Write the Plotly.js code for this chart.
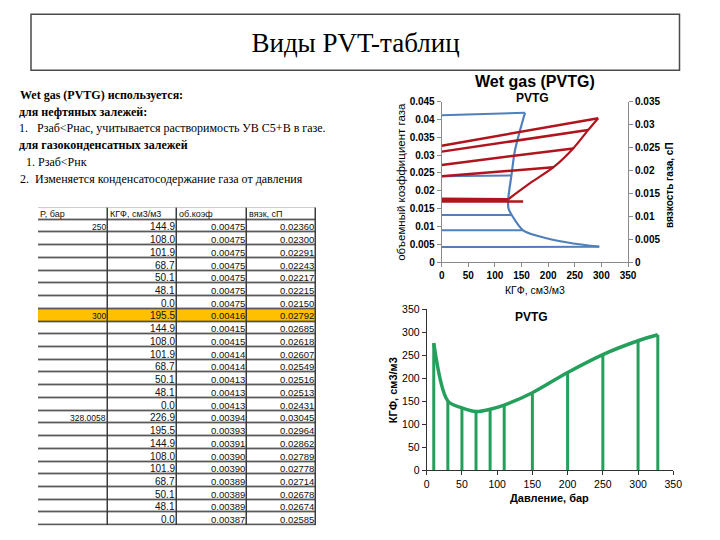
<!DOCTYPE html>
<html><head><meta charset="utf-8">
<script src="https://cdn.plot.ly/plotly-3.0.1.min.js"></script>
<style>html,body{margin:0;padding:0;background:#fff;}#chart{width:720px;height:540px;}</style>
</head><body><div id="chart"></div>
<script>
// ---------- Top chart: Wet gas (PVTG) ----------
// blue: gas formation volume factor, lines from dry gas (KGF=0) to saturation
const bgLineKgfSat = [156.5, 131, 125, 131.5, 153, 296];
const bgLineBgSat  = [0.0419, 0.0243, 0.0177, 0.0132, 0.0089, 0.0043];
const bgLineBgDry  = [0.0412, 0.0241, 0.0177, 0.0132, 0.0089, 0.0042];
// blue saturated curve
const bgSatKgf = [156.5, 137.7, 131, 125, 125.5, 131.5, 153, 197, 247, 296];
const bgSatBg  = [0.0419, 0.0314, 0.0243, 0.0177, 0.0150, 0.0132, 0.0089, 0.00665, 0.0052, 0.0043];
// red: gas viscosity (right axis)
const muLineKgfSat = [294, 275, 247, 210, 125, 122, 153];
const muLineMuSat  = [0.0314, 0.0288, 0.0248, 0.0207, 0.0137, 0.0134, 0.0132];
const muLineMuDry  = [0.0254, 0.0241, 0.0212, 0.0187, 0.0138, 0.0135, 0.0132];
const muSatKgf = [125, 166, 210, 247, 275, 294];
const muSatMu  = [0.0137, 0.0172, 0.0207, 0.0248, 0.0288, 0.0314];

// ---------- Bottom chart: KGF vs pressure ----------
const pressure = [10, 30, 50, 70, 90, 110, 150, 200, 250, 300, 328];
const kgfSat   = [276, 150, 135, 127, 132, 141, 168, 212, 251, 281, 294];

// ---------- Table ----------
const tableHeader = ['P, бар', 'КГФ, см3/м3', 'об.коэф', 'вязк, сП'];
const colPressure = ['250','','','','','','', '300','','','','','','','', '328.0058','','','','','','','',''];
const colKgf = ['144.9','108.0','101.9','68.7','50.1','48.1','0.0',
  '195.5','144.9','108.0','101.9','68.7','50.1','48.1','0.0',
  '226.9','195.5','144.9','108.0','101.9','68.7','50.1','48.1','0.0'];
const colBg = ['0.00475','0.00475','0.00475','0.00475','0.00475','0.00475','0.00475',
  '0.00416','0.00415','0.00415','0.00414','0.00414','0.00413','0.00413','0.00413',
  '0.00394','0.00393','0.00391','0.00390','0.00390','0.00389','0.00389','0.00389','0.00387'];
const colMu = ['0.02360','0.02300','0.02291','0.02243','0.02217','0.02215','0.02150',
  '0.02792','0.02685','0.02618','0.02607','0.02549','0.02516','0.02513','0.02431',
  '0.03045','0.02964','0.02862','0.02789','0.02778','0.02714','0.02678','0.02674','0.02585'];
const highlightPressure = '300';

// ---------- Slide text ----------
const slideTitle = 'Виды PVT-таблиц';
const textLines = [
  {t:'<b>Wet gas (PVTG) используется:</b>', x:18, y:94.5},
  {t:'<b>для нефтяных залежей:</b>', x:17, y:111.7},
  {t:'1.', x:16.5, y:128.5},
  {t:'Рзаб&lt;Рнас, учитывается растворимость УВ С5+В в газе.', x:35, y:128.5},
  {t:'<b>для газоконденсатных залежей</b>', x:17, y:145.2},
  {t:'1. Рзаб&lt;Рнк', x:23.5, y:162},
  {t:'2.', x:18, y:179},
  {t:'Изменяется конденсатосодержание газа от давления', x:33, y:179}
];

const W = 720, H = 540;
const px = v => v / W, py = v => 1 - v / H;
const SANS = 'Liberation Sans, Arial, sans-serif';
const SERIF = 'Liberation Serif, Times New Roman, serif';
const BLUE = '#4f80bb', RED = '#b0141c', GREEN = '#25a05c';

function segs(xs0, ys0, xs1, ys1) {
  const x = [], y = [];
  for (let i = 0; i < xs1.length; i++) { x.push(xs0[i], xs1[i], null); y.push(ys0[i], ys1[i], null); }
  return {x, y};
}

const traces = [];
// top chart
const bgS = segs(bgLineKgfSat.map(() => 0), bgLineBgDry, bgLineKgfSat, bgLineBgSat);
traces.push({type:'scatter', mode:'lines', x:bgS.x, y:bgS.y, xaxis:'x', yaxis:'y', line:{color:BLUE, width:2}, hoverinfo:'skip'});
traces.push({type:'scatter', mode:'lines', x:bgSatKgf, y:bgSatBg, xaxis:'x', yaxis:'y', line:{color:BLUE, width:2.2, shape:'spline', smoothing:0.8}, hoverinfo:'skip'});
const muS = segs(muLineKgfSat.map(() => 0), muLineMuDry, muLineKgfSat, muLineMuSat);
traces.push({type:'scatter', mode:'lines', x:muS.x, y:muS.y, xaxis:'x', yaxis:'y2', line:{color:RED, width:2.5}, hoverinfo:'skip'});
traces.push({type:'scatter', mode:'lines', x:muSatKgf, y:muSatMu, xaxis:'x', yaxis:'y2', line:{color:RED, width:2.2, shape:'spline', smoothing:0.8}, hoverinfo:'skip'});
// bottom chart
const gS = segs(pressure, pressure.map(() => 0), pressure, kgfSat);
traces.push({type:'scatter', mode:'lines', x:gS.x, y:gS.y, xaxis:'x2', yaxis:'y3', line:{color:GREEN, width:3}, hoverinfo:'skip'});
traces.push({type:'scatter', mode:'lines', x:pressure, y:kgfSat, xaxis:'x2', yaxis:'y3', line:{color:GREEN, width:3.5, shape:'spline', smoothing:0.9}, hoverinfo:'skip'});

// table cells (grid underlay + fills with gaps)
const nRows = colKgf.length + 1;
const rowIdx = Array.from({length:nRows}, (_, i) => i);
const colIdx = [0, 1, 2, 3];
const zGrid = rowIdx.map(() => colIdx.map(() => 0));
const zFill = rowIdx.map(r => colIdx.map(() => (r > 0 && colPressure[r-1] === highlightPressure) ? 1 : 0));
traces.push({type:'heatmap', x:colIdx, y:rowIdx, z:zGrid, xaxis:'x3', yaxis:'y4', colorscale:[[0,'#3c3c3c'],[1,'#3c3c3c']], showscale:false, hoverinfo:'skip'});
traces.push({type:'heatmap', x:colIdx, y:rowIdx, z:zFill, xaxis:'x3', yaxis:'y4', zmin:0, zmax:1, xgap:1.5, ygap:1.5, colorscale:[[0,'#ffffff'],[1,'#ffc000']], showscale:false, hoverinfo:'skip'});

const ann = [];
// table text
tableHeader.forEach((h, c) => ann.push({xref:'x3', yref:'y4', x:c - 0.5, y:0, text:h, xanchor:'left', yanchor:'middle', xshift:0, showarrow:false, font:{family:SANS, size:9, color:'#111'}}));
const cols = [colPressure, colKgf, colBg, colMu];
const colSize = [8.5, 10, 9.5, 9.5];
cols.forEach((col, c) => col.forEach((v, r) => {
  if (v === '') return;
  ann.push({xref:'x3', yref:'y4', x:c + 0.5, y:r + 1, text:v, xanchor:'right', yanchor:'middle', xshift:0, yshift:-0.5, showarrow:false, font:{family:SANS, size:colSize[c], color:'#111'}});
}));
// slide text
textLines.forEach(l => ann.push({xref:'paper', yref:'paper', x:px(l.x), y:py(l.y), text:l.t, xanchor:'left', yanchor:'middle', showarrow:false, font:{family:SERIF, size:12, color:'#000'}}));
// chart titles and axis titles
ann.push({xref:'paper', yref:'paper', x:px(535), y:py(81.7), text:'<b>Wet gas (PVTG)</b>', showarrow:false, xanchor:'center', yanchor:'middle', font:{family:SANS, size:16, color:'#000'}});
ann.push({xref:'paper', yref:'paper', x:px(532.5), y:py(98.3), text:'<b>PVTG</b>', showarrow:false, xanchor:'center', yanchor:'middle', font:{family:SANS, size:12, color:'#000'}});
ann.push({xref:'paper', yref:'paper', x:px(535), y:py(290), text:'КГФ, см3/м3', showarrow:false, xanchor:'center', yanchor:'middle', font:{family:SANS, size:10.5, color:'#000'}});
ann.push({xref:'paper', yref:'paper', x:px(401), y:py(181.8), text:'объемный коэффициент газа', textangle:-90, showarrow:false, xanchor:'center', yanchor:'middle', font:{family:SANS, size:11.5, color:'#000'}});
ann.push({xref:'paper', yref:'paper', x:px(670), y:py(185), text:'<b>вязкость газа, сП</b>', textangle:-90, showarrow:false, xanchor:'center', yanchor:'middle', font:{family:SANS, size:10, color:'#000'}});
ann.push({xref:'paper', yref:'paper', x:px(531.7), y:py(316.7), text:'<b>PVTG</b>', showarrow:false, xanchor:'center', yanchor:'middle', font:{family:SANS, size:12, color:'#000'}});
ann.push({xref:'paper', yref:'paper', x:px(549), y:py(498), text:'<b>Давление, бар</b>', showarrow:false, xanchor:'center', yanchor:'middle', font:{family:SANS, size:11, color:'#000'}});
ann.push({xref:'paper', yref:'paper', x:px(393.3), y:py(390), text:'<b>КГФ, см3/м3</b>', textangle:-90, showarrow:false, xanchor:'center', yanchor:'middle', font:{family:SANS, size:11, color:'#000'}});

const topAxis = {showline:true, linecolor:'#8a8a8a', linewidth:1, ticks:'outside', ticklen:4, tickcolor:'#8a8a8a', showgrid:false, zeroline:false, tickfont:{family:SANS, size:10, color:'#000', weight:'bold'}};
const botAxis = {showline:true, linecolor:'#333', linewidth:1, ticks:'outside', ticklen:4, tickcolor:'#333', showgrid:false, zeroline:false, tickfont:{family:SANS, size:10.5, color:'#000'}};

const layout = {
  width:W, height:H, margin:{l:0, r:0, t:0, b:0}, showlegend:false,
  paper_bgcolor:'#fff', plot_bgcolor:'rgba(0,0,0,0)',
  title:{text:slideTitle, x:px(355.5), xanchor:'center', y:py(43), yanchor:'middle', font:{family:SERIF, size:27, color:'#000'}},
  xaxis: Object.assign({}, topAxis, {domain:[px(441.7), px(628)], range:[0,350], dtick:50, tick0:0, anchor:'y'}),
  yaxis: Object.assign({}, topAxis, {domain:[py(262), py(101.7)], range:[0,0.045], dtick:0.005, tick0:0, anchor:'x'}),
  yaxis2: Object.assign({}, topAxis, {overlaying:'y', side:'right', range:[0,0.035], dtick:0.005, tick0:0, anchor:'x'}),
  xaxis2: Object.assign({}, botAxis, {domain:[px(426.7), px(673.3)], range:[0,350], dtick:50, tick0:0, anchor:'y3'}),
  yaxis3: Object.assign({}, botAxis, {domain:[py(470), py(309)], range:[0,350], dtick:50, tick0:0, anchor:'x2'}),
  xaxis3: {domain:[px(38), px(316)], range:[-0.5, 3.5], visible:false, anchor:'y4', fixedrange:true},
  yaxis4: {domain:[py(525.5), py(207.3)], range:[nRows - 0.5, -0.5], visible:false, anchor:'x3', fixedrange:true},
  shapes:[{type:'rect', xref:'paper', yref:'paper', x0:px(31), x1:px(679.5), y0:py(70.3), y1:py(14.3), line:{color:'#4a4a4a', width:1.5}}],
  annotations: ann
};

Plotly.newPlot('chart', traces, layout, {displayModeBar:false, staticPlot:true});
</script></body></html>
